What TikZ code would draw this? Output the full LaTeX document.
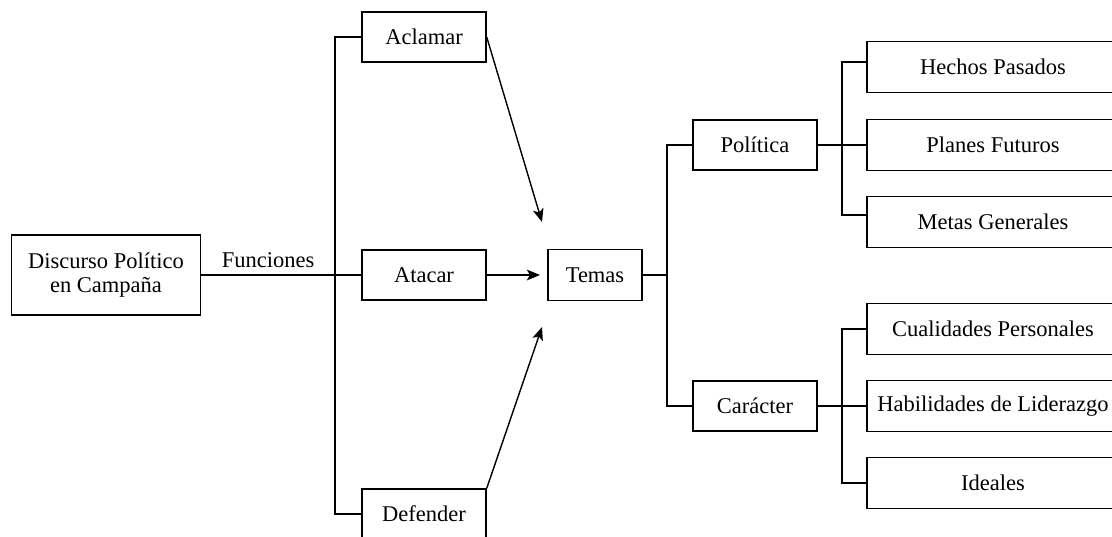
\documentclass[tikz,border=0pt]{standalone}
\usepackage{fontspec}
\setmainfont{Liberation Serif}
\usetikzlibrary{arrows.meta, positioning}
\tikzstyle{box} = [rectangle, draw=black, line width=1pt, inner sep=0pt, text centered, font=\fontsize{16}{17}\selectfont]
\tikzstyle{mainbox} = [box, minimum width=4.725cm, minimum height=2cm, align=center]
\tikzstyle{funcbox} = [box, minimum width=3.1cm, minimum height=1.25cm]
\tikzstyle{themebox} = [box, minimum width=2.35cm, minimum height=1.275cm]
\tikzstyle{leafbox} = [box, minimum width=6.3cm, minimum height=1.275cm]
\tikzstyle{link} = [line width=1pt]
\tikzstyle{arrow} = [line width=1pt, ->, >={Stealth[length=0.33cm, width=0.27cm, inset=0.08cm]}]

\begin{document}
\begin{tikzpicture}[x=0.025cm, y=-0.025cm]
\useasboundingbox (0,0) rectangle (1112,537);

\node at (106, 275) (discurso) [mainbox] {Discurso Político\\en Campaña};
\node at (424, 37) (aclamar) [funcbox] {Aclamar};
\node at (424, 275) (atacar) [funcbox] {Atacar};
\node at (424, 514) (defender) [funcbox] {Defender};
\node at (595, 275) (temas) [themebox] {Temas};
\node at (755, 145) (politica) [funcbox] {Política};
\node at (755, 406) (caracter) [funcbox] {Carácter};
\node at (993, 67) (hechos) [leafbox] {Hechos Pasados};
\node at (993, 145) (planes) [leafbox] {Planes Futuros};
\node at (993, 222) (metas) [leafbox] {Metas Generales};
\node at (993, 329) (cualidades) [leafbox] {Cualidades Personales};
\node at (993, 406) (habilidades) [leafbox] {Habilidades de Liderazgo};
\node at (993, 483) (ideales) [leafbox] {Ideales};

\coordinate (fun) at (335, 275);
\coordinate (tem) at (667, 275);
\coordinate (pol) at (842, 145);
\coordinate (car) at (842, 406);

\draw [link] (discurso) -- node[above=1pt, font=\fontsize{16}{17}\selectfont] {Funciones} (fun);
\draw [link] (aclamar.west) -| (fun);
\draw [link] (defender.west) -| (fun);
\draw [link] (fun) -- (atacar);

\draw [arrow] (aclamar.east) -- (542, 222);
\draw [arrow] (atacar) -- (540, 275);
\draw [arrow] (defender.north east) -- (542, 327);

\draw [link] (temas) -- (tem);
\draw [link] (politica.west) -| (tem);
\draw [link] (caracter.west) -| (tem);

\draw [link] (politica) -- (planes);
\draw [link] ([yshift=0.125cm]hechos.west) -| (pol);
\draw [link] ([yshift=0.175cm]metas.west) -| (pol);

\draw [link] (caracter) -- (habilidades);
\draw [link] (cualidades.west) -| (car);
\draw [link] (ideales.west) -| (car);

\end{tikzpicture}
\end{document}
